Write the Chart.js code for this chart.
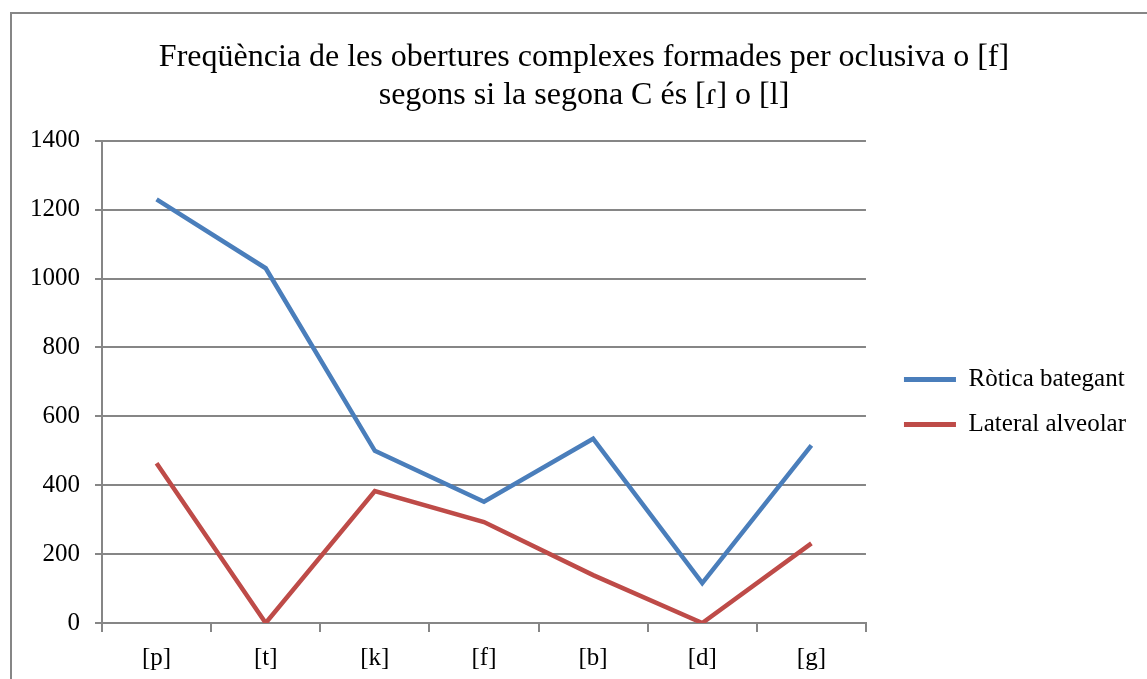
<!DOCTYPE html>
<html>
<head>
<meta charset="utf-8">
<script src="https://cdn.jsdelivr.net/npm/chart.js@4.4.0/dist/chart.umd.min.js"></script>
<style>
  html, body { margin: 0; padding: 0; background: #fff; overflow: hidden; }
  #frame {
    position: absolute; left: 10px; top: 12px;
    width: 1160px; height: 700px;
    border: 2px solid #868686; box-sizing: border-box;
  }
  #wrap { position: absolute; left: 0; top: 0; width: 1145px; height: 676px; }
</style>
</head>
<body>
<div id="frame"><div id="wrap"><canvas id="myChart"></canvas></div></div>
<script>
let categories = ["[p]", "[t]", "[k]", "[f]", "[b]", "[d]", "[g]"];
let roticaValues = [1230, 1030, 500, 352, 535, 116, 516];
let lateralValues = [464, 0, 383, 293, 139, 0, 231];
let yTicks = [0, 200, 400, 600, 800, 1000, 1200, 1400];

let gridColor = "#868686";
let serif = "'Liberation Serif', 'Times New Roman', serif";

new Chart("myChart", {
    type: "line",
    data: {
        labels: categories,
        datasets: [{
            label: "Ròtica bategant",
            data: roticaValues,
            borderColor: "#4a7ebb",
            backgroundColor: "#4a7ebb",
            borderWidth: 4.5,
            pointRadius: 0,
            tension: 0
        }, {
            label: "Lateral alveolar",
            data: lateralValues,
            borderColor: "#be4b48",
            backgroundColor: "#be4b48",
            borderWidth: 4.5,
            pointRadius: 0,
            tension: 0
        }]
    },
    options: {
        responsive: true,
        maintainAspectRatio: false,
        animation: false,
        layout: { padding: { left: 20, right: 21, top: 24, bottom: 6 } },
        plugins: {
            title: {
                display: true,
                text: ["Freqüència de les obertures complexes formades per oclusiva o [f]",
                       "segons si la segona C és [ɾ] o [l]"],
                color: "#000",
                font: { family: serif, size: 32, weight: "normal", lineHeight: 1.2 },
                padding: { top: 0, bottom: 26 }
            },
            legend: {
                position: "right",
                title: {
                    display: true,
                    text: " ",
                    font: { size: 10, lineHeight: 1.2 },
                    padding: { top: 35, bottom: 35 }
                },
                labels: {
                    color: "#000",
                    font: { family: serif, size: 25 },
                    boxWidth: 52,
                    boxHeight: 5,
                    padding: 20,
                    generateLabels: function(chart) {
                        let items = Chart.defaults.plugins.legend.labels.generateLabels(chart);
                        items.forEach(function(it) { it.lineWidth = 0; });
                        return items;
                    }
                }
            },
            tooltip: { enabled: false }
        },
        scales: {
            x: {
                offset: true,
                grid: {
                    offset: true,
                    drawOnChartArea: false,
                    color: gridColor,
                    lineWidth: 2,
                    tickLength: 9
                },
                border: { color: gridColor, width: 2 },
                ticks: { color: "#000", font: { family: serif, size: 25 }, padding: 11 }
            },
            y: {
                min: 0,
                max: 1400,
                afterBuildTicks: function(axis) {
                    axis.ticks = yTicks.map(function(v) { return { value: v }; });
                },
                afterFit: function(axis) { axis.width = 70; },
                grid: { color: gridColor, lineWidth: 2, tickLength: 7 },
                border: { color: gridColor, width: 2 },
                ticks: {
                    color: "#000",
                    font: { family: serif, size: 25 },
                    padding: 15,
                    callback: function(v) { return String(v); }
                }
            },
            y2: {
                display: false,
                position: "right",
                min: 0,
                max: 1400,
                afterFit: function(axis) { axis.width = 18; }
            }
        }
    }
});
</script>
</body>
</html>
